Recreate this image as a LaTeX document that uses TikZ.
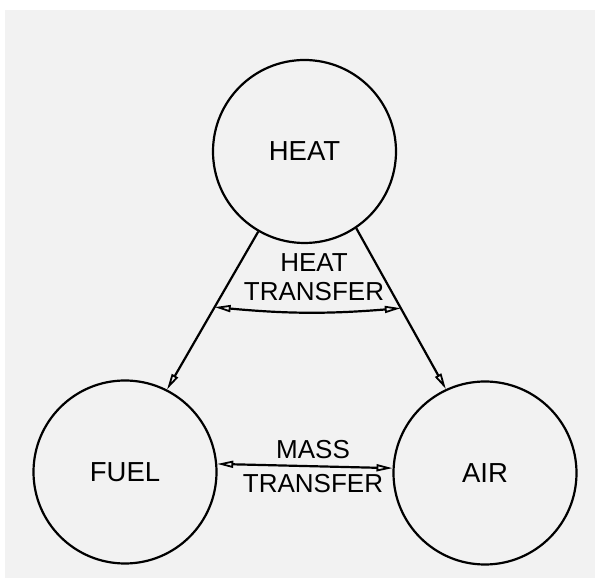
\documentclass[tikz,border=0pt]{standalone}
\usepackage{fontspec}
\setmainfont{Liberation Sans}
\usetikzlibrary{arrows.meta}
\definecolor{paper}{HTML}{F2F2F2}
\tikzset{
  x=1pt,y=1pt,
  blob/.style={circle,draw,line width=2.2pt,minimum size=183pt,inner sep=0pt,
    font=\fontsize{27.5}{29}\selectfont},
  lbl/.style={align=center,inner sep=0pt,font=\fontsize{26}{29}\selectfont},
  conn/.style={line width=2.2pt},
  tip/.style={-{Triangle[open,length=16pt,width=7pt,line width=1.8pt]}},
  dtip/.style={{Triangle[open,length=16pt,width=7pt,line width=1.8pt]}-{Triangle[open,length=16pt,width=7pt,line width=1.8pt]}}
}
\begin{document}
\begin{tikzpicture}
\useasboundingbox (0,0) rectangle (595,578);
\fill[paper] (5,0) rectangle (595,568);
\node[blob] (heat) at (304.5,426.5) {HEAT};
\node[blob] (fuel) at (125,106) {FUEL};
\node[blob] (air) at (485,105) {AIR};
\draw[conn,tip] (heat.-120) -- (fuel.63) coordinate[pos=0.478] (h1);
\draw[conn,tip] (heat.-56) -- (air.115) coordinate[pos=0.497] (h2);
\draw[conn,dtip] (h1) to[bend right=5] (h2);
\draw[conn,dtip] (fuel.5) -- (air.177.5);
\node[lbl] (ht) at (314,301) {HEAT\\TRANSFER};
\node[lbl] (mt) at (313,111) {MASS\\[5pt]TRANSFER};
\end{tikzpicture}
\end{document}
